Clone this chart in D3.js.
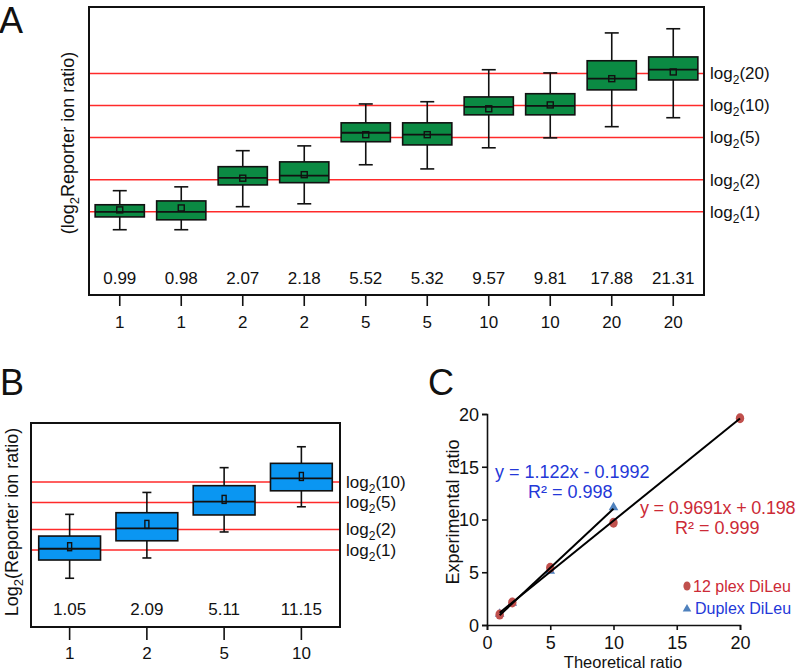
<!DOCTYPE html>
<html><head><meta charset="utf-8">
<script src="https://cdn.jsdelivr.net/npm/d3@7/dist/d3.min.js"></script>
<style>
body{margin:0;background:#fff;}
svg{display:block;font-family:"Liberation Sans",Arial,Helvetica,sans-serif;}
</style></head>
<body><svg id="c" width="800" height="672"></svg>
<script>
// ---------- Panel A data (log2 reporter ion ratio, 12-plex DiLeu) ----------
const catsA = ["1","1","2","2","5","5","10","10","20","20"];
const ratioA = ["0.99","0.98","2.07","2.18","5.52","5.32","9.57","9.81","17.88","21.31"];
const whiskLowA  = [-0.56,-0.56,0.16,0.25,1.47,1.34,2.00,2.31,2.66,2.94];
const q1A        = [-0.16,-0.25,0.84,0.91,2.19,2.09,3.03,3.03,3.81,4.12];
const medianA    = [0.00,0.00,1.06,1.13,2.47,2.41,3.28,3.31,4.16,4.44];
const q3A        = [0.22,0.34,1.41,1.56,2.78,2.78,3.59,3.69,4.72,4.84];
const whiskHighA = [0.66,0.78,1.91,2.06,3.37,3.44,4.44,4.34,5.59,5.72];
const meanA      = [0.06,0.12,1.05,1.16,2.41,2.41,3.22,3.34,4.16,4.37];
const refA = [1,2,5,10,20];

// ---------- Panel B data (duplex DiLeu) ----------
const catsB = ["1","2","5","10"];
const ratioB = ["1.05","2.09","5.11","11.15"];
const whiskLowB  = [-1.38,-0.39,0.88,2.11];
const q1B        = [-0.49,0.45,1.71,2.89];
const medianB    = [0.06,1.06,2.36,3.50];
const q3B        = [0.68,1.82,3.14,4.23];
const whiskHighB = [1.74,2.81,4.02,5.04];
const meanB      = [0.16,1.25,2.47,3.59];
const refB = [1,2,5,10];

// ---------- Panel C data ----------
const theoretical = [1,2,5,10,20];
const plex12 = [0.985,2.125,5.42,9.69,19.6];
const theoreticalDup = [1,2,5,10];
const duplex = [1.05,2.09,5.11,11.15];
const fit12 = {slope:0.9691, intercept:0.198, x0:1, x1:20};
const fitDup = {slope:1.122, intercept:-0.1992, x0:1, x1:10};
const ticksC = [0,5,10,15,20];

const svg = d3.select("#c");
const GREEN = "#0b8a43", BLUE = "#0a96f2", REDLINE = "#ff2a2a";

function boxPanel(o){
  const g = svg.append("g");
  const n = o.cats.length;
  const x = d3.scaleBand().domain(d3.range(n)).range([o.x0,o.x1]).paddingInner(0.2).paddingOuter(0.1);
  const y = d3.scaleLinear().domain(o.ydom).range([o.y1,o.y0]);
  g.selectAll(".ref").data(o.refs).enter().append("line")
    .attr("x1",o.x0).attr("x2",o.x1)
    .attr("y1",d=>y(Math.log2(d))).attr("y2",d=>y(Math.log2(d)))
    .attr("stroke",REDLINE).attr("stroke-width",1.6);
  const rl = g.selectAll(".rl").data(o.refs).enter().append("text")
    .attr("x",o.x1+6).attr("y",d=>y(Math.log2(d))).attr("dy","0.35em")
    .attr("font-size",17).attr("fill","#111");
  rl.append("tspan").text("log");
  rl.append("tspan").attr("font-size",12).attr("dy",5).text("2");
  rl.append("tspan").attr("dy",-5).text(d=>"("+d+")");
  const idx = d3.range(n);
  const cx = i=>x(i)+x.bandwidth()/2;
  g.selectAll(".wl").data(idx).enter().append("line")
    .attr("x1",cx).attr("x2",cx).attr("y1",i=>y(o.wl[i])).attr("y2",i=>y(o.wh[i]))
    .attr("stroke","#111").attr("stroke-width",1.6);
  [o.wl,o.wh].forEach(arr=>{
    g.selectAll(null).data(idx).enter().append("line")
      .attr("x1",i=>cx(i)-o.cap/2).attr("x2",i=>cx(i)+o.cap/2)
      .attr("y1",i=>y(arr[i])).attr("y2",i=>y(arr[i]))
      .attr("stroke","#111").attr("stroke-width",1.6);
  });
  g.selectAll(".bx").data(idx).enter().append("rect")
    .attr("x",i=>x(i)).attr("width",x.bandwidth())
    .attr("y",i=>y(o.q3[i])).attr("height",i=>y(o.q1[i])-y(o.q3[i]))
    .attr("fill",o.fill).attr("stroke","#111").attr("stroke-width",1.6);
  g.selectAll(".md").data(idx).enter().append("line")
    .attr("x1",i=>x(i)).attr("x2",i=>x(i)+x.bandwidth())
    .attr("y1",i=>y(o.med[i])).attr("y2",i=>y(o.med[i]))
    .attr("stroke","#111").attr("stroke-width",1.8);
  g.selectAll(".mn").data(idx).enter().append("rect")
    .attr("x",i=>cx(i)-o.mw/2).attr("y",i=>y(o.mean[i])-o.mh/2)
    .attr("width",o.mw).attr("height",o.mh)
    .attr("fill","none").attr("stroke","#111").attr("stroke-width",1.4);
  g.selectAll(".rt").data(idx).enter().append("text")
    .attr("x",cx).attr("y",o.ratioY).attr("text-anchor","middle")
    .attr("font-size",17).attr("fill","#111").text(i=>o.ratio[i]);
  g.append("rect").attr("x",o.x0).attr("y",o.y0).attr("width",o.x1-o.x0).attr("height",o.y1-o.y0)
    .attr("fill","none").attr("stroke","#111").attr("stroke-width",2);
  const ax = g.append("g").attr("transform",`translate(0,${o.y1})`)
    .call(d3.axisBottom(x).tickSizeOuter(0).tickSize(o.tick).tickPadding(o.tpad).tickFormat(i=>o.cats[i]));
  ax.attr("font-family",null);
  ax.select(".domain").remove();
  ax.selectAll("line").attr("stroke","#111").attr("stroke-width",1.6);
  ax.selectAll("text").attr("font-size",17).attr("fill","#111");
  const yt = g.append("text").attr("transform",`translate(${o.titleX},${o.titleY}) rotate(-90)`)
    .attr("text-anchor","middle").attr("font-size",18).attr("fill","#111");
  yt.append("tspan").text(o.titlePre);
  yt.append("tspan").attr("font-size",13).attr("dy",5).text("2");
  yt.append("tspan").attr("dy",-5).text(o.titlePost);
  svg.append("text").attr("x",o.lx).attr("y",o.ly).attr("font-size",36).attr("fill","#111").text(o.letter);
}

boxPanel({cats:catsA, ratio:ratioA, wl:whiskLowA, q1:q1A, med:medianA, q3:q3A, wh:whiskHighA, mean:meanA,
  refs:refA, x0:89, x1:704, y0:7, y1:295, ydom:[-2.6,6.4], fill:GREEN, cap:14, mw:6, mh:6,
  ratioY:284, tick:11, tpad:10, titleX:74, titleY:143, titlePre:"(log", titlePost:"Reporter ion ratio)",
  letter:"A", lx:-1, ly:33});

boxPanel({cats:catsB, ratio:ratioB, wl:whiskLowB, q1:q1B, med:medianB, q3:q3B, wh:whiskHighB, mean:meanB,
  refs:refB, x0:31, x1:340, y0:423, y1:627, ydom:[-3.76,6.2], fill:BLUE, cap:9, mw:4, mh:8,
  ratioY:615, tick:13, tpad:7, titleX:18, titleY:522, titlePre:"Log", titlePost:"(Reporter ion ratio)",
  letter:"B", lx:0, ly:395});

// ---------- Panel C ----------
const gc = svg.append("g");
const xc = d3.scaleLinear().domain([0,20]).range([487,740]);
const yc = d3.scaleLinear().domain([0,20]).range([625,414]);
const axL = gc.append("g").attr("transform","translate(487,0)")
  .call(d3.axisLeft(yc).tickValues(ticksC).tickSizeOuter(0).tickSize(5).tickPadding(3));
const axB = gc.append("g").attr("transform","translate(0,625)")
  .call(d3.axisBottom(xc).tickValues(ticksC).tickSizeOuter(0).tickSize(5).tickPadding(6));
[axL,axB].forEach(a=>{
  a.attr("font-family",null);
  a.select(".domain").attr("stroke","#111").attr("stroke-width",1.6);
  a.selectAll("line").attr("stroke","#111").attr("stroke-width",1.6);
  a.selectAll("text").attr("font-size",18).attr("fill","#111");
});
axL.selectAll("text").attr("dy","0.36em");
gc.append("text").attr("x",623).attr("y",668.2).attr("text-anchor","middle").attr("font-size",16.5).attr("fill","#111").text("Theoretical ratio");
gc.append("text").attr("transform","translate(459,512) rotate(-90)").attr("text-anchor","middle")
  .attr("font-size",18).attr("fill","#111").text("Experimental ratio");
svg.append("text").attr("x",428).attr("y",395).attr("font-size",36).attr("fill","#111").text("C");

const tri = d3.symbol().type(d3.symbolTriangle).size(40);
gc.selectAll(".tri").data(d3.range(duplex.length)).enter().append("path")
  .attr("d",tri).attr("transform",i=>`translate(${xc(theoreticalDup[i])},${yc(duplex[i])})`)
  .attr("fill","#4f81bd");
gc.selectAll(".dot").data(d3.range(plex12.length)).enter().append("ellipse")
  .attr("cx",i=>xc(theoretical[i])).attr("cy",i=>yc(plex12[i])).attr("rx",4.2).attr("ry",5)
  .attr("fill","#c0504d");
[fit12,fitDup].forEach(f=>{
  gc.append("line").attr("x1",xc(f.x0)).attr("y1",yc(f.slope*f.x0+f.intercept))
    .attr("x2",xc(f.x1)).attr("y2",yc(f.slope*f.x1+f.intercept))
    .attr("stroke","#000").attr("stroke-width",2);
});
const EQBLUE = "#2438d8", EQRED = "#cc2a36";
gc.append("text").attr("x",495).attr("y",478).attr("font-size",18).attr("fill",EQBLUE).text("y = 1.122x - 0.1992");
gc.append("text").attr("x",528).attr("y",498).attr("font-size",18).attr("fill",EQBLUE).text("R² = 0.998");
gc.append("text").attr("x",640).attr("y",514).attr("font-size",18).attr("letter-spacing",-0.2).attr("fill",EQRED).text("y = 0.9691x + 0.198");
gc.append("text").attr("x",675).attr("y",534).attr("font-size",18).attr("fill",EQRED).text("R² = 0.999");
gc.append("ellipse").attr("cx",687).attr("cy",586).attr("rx",3.6).attr("ry",4.6).attr("fill","#c0504d");
gc.append("text").attr("x",693).attr("y",592).attr("font-size",16).attr("fill",EQRED).text("12 plex DiLeu");
gc.append("path").attr("d",d3.symbol().type(d3.symbolTriangle).size(32)).attr("transform","translate(687,609)").attr("fill","#4f81bd");
gc.append("text").attr("x",695).attr("y",614).attr("font-size",16).attr("fill",EQBLUE).text("Duplex DiLeu");
</script></body></html>
